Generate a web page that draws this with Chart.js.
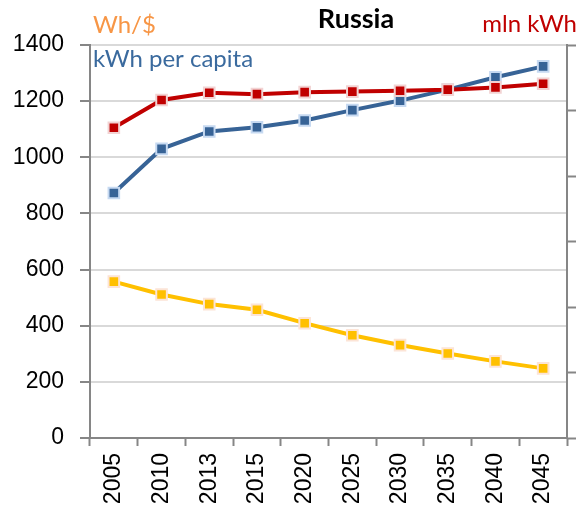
<!DOCTYPE html>
<html><head><meta charset="utf-8">
<script src="https://cdn.jsdelivr.net/npm/chart.js@4/dist/chart.umd.min.js"></script>
<style>html,body{margin:0;padding:0;background:#fff;overflow:hidden}</style>
</head><body>
<canvas id="c" width="582" height="512"></canvas>
<script>
const years = ['2005','2010','2013','2015','2020','2025','2030','2035','2040','2045'];
const mlnKWh = [1105, 1204, 1230, 1225, 1232, 1234, 1237, 1241, 1249, 1262];
const kWhPerCapita = [873, 1030, 1092, 1107, 1131, 1168, 1202, 1241, 1285, 1324];
const whPerDollar = [557, 511, 477, 457, 409, 366, 331, 301, 273, 248];
const leftTicks = [0, 200, 400, 600, 800, 1000, 1200, 1400];
const rightTicks = [0, 1, 2, 3, 4, 5, 6];

const AXIS = '#868686';
const tickFont = {family: '"Liberation Sans", Arial, sans-serif', size: 23};

const labelsPlugin = {
  id: 'labels',
  afterDraw(chart) {
    const ctx = chart.ctx;
    ctx.save();
    ctx.textBaseline = 'alphabetic';
    ctx.textAlign = 'left';
    ctx.font = '24px Lato, "Open Sans", sans-serif';
    ctx.fillStyle = '#F79646';
    ctx.fillText('Wh/$', 93, 33);
    ctx.fillStyle = '#3A6A9E';
    ctx.fillText('kWh per capita', 93, 67);
    ctx.fillStyle = '#C00000';
    ctx.textAlign = 'right';
    ctx.fillText('mln kWh', 577, 32);
    ctx.fillStyle = '#000';
    ctx.textAlign = 'center';
    ctx.font = 'bold 27px Lato, "Open Sans", sans-serif';
    ctx.fillText('Russia', 356, 28);
    ctx.restore();
  }
};

function ds(label, data, color, pale) {
  return {
    label, data,
    yAxisID: 'y',
    borderColor: color,
    backgroundColor: color,
    borderWidth: 4,
    pointStyle: 'rect',
    pointRadius: 7.5,
    pointBorderWidth: 2,
    pointBackgroundColor: color,
    pointBorderColor: pale,
    tension: 0,
  };
}

new Chart(document.getElementById('c'), {
  type: 'line',
  data: {
    labels: years,
    datasets: [
      ds('mln kWh', mlnKWh, '#C00000', '#F2D3D3'),
      ds('kWh per capita', kWhPerCapita, '#376396', '#C6D9F1'),
      ds('Wh/$', whPerDollar, '#FFC000', '#FCE4D6'),
    ]
  },
  options: {
    responsive: false,
    animation: false,
    events: [],
    layout: {padding: {top: 45, left: 0, right: 0, bottom: 0}},
    plugins: {legend: {display: false}, tooltip: {enabled: false}, title: {display: false}},
    scales: {
      x: {
        type: 'category',
        offset: true,
        grid: {offset: true, drawOnChartArea: false, drawTicks: true, tickLength: 8, tickColor: AXIS, tickWidth: 2},
        border: {color: AXIS, width: 2},
        ticks: {minRotation: 90, maxRotation: 90, font: tickFont, color: '#000', padding: 7, autoSkip: false},
        afterFit(s) { s.height = 74; }
      },
      y: {
        position: 'left',
        min: leftTicks[0], max: leftTicks[leftTicks.length - 1],
        afterBuildTicks(s) { s.ticks = leftTicks.map(v => ({value: v})); },
        ticks: {font: tickFont, color: '#000', padding: 16, callback: v => String(v)},
        grid: {color: '#D9D9D9', lineWidth: 2, tickLength: 10, tickColor: AXIS, tickWidth: 2},
        border: {color: AXIS, width: 2},
        afterFit(s) { s.width = 90; }
      },
      y2: {
        position: 'right',
        min: rightTicks[0], max: rightTicks[rightTicks.length - 1],
        afterBuildTicks(s) { s.ticks = rightTicks.map(v => ({value: v})); },
        ticks: {display: false},
        grid: {drawOnChartArea: false, tickLength: 9, tickColor: AXIS, tickWidth: 2},
        border: {color: AXIS, width: 2},
        afterFit(s) { s.width = 15; }
      }
    }
  },
  plugins: [labelsPlugin]
});
</script>
</body></html>
